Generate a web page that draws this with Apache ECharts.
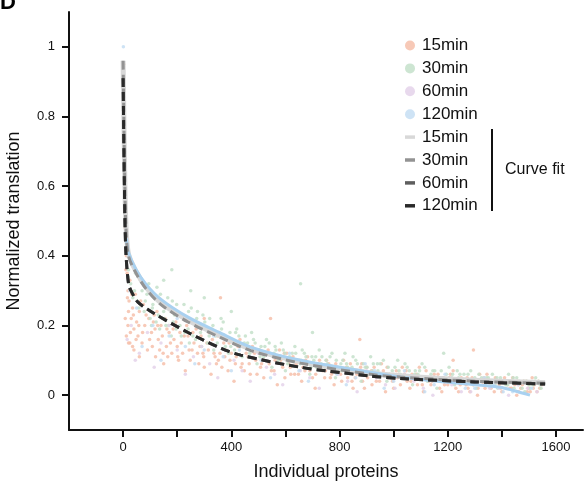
<!DOCTYPE html>
<html>
<head>
<meta charset="utf-8">
<script src="https://cdn.jsdelivr.net/npm/echarts@6/dist/echarts.min.js"></script>
<style>
  html, body { margin: 0; padding: 0; background: #fff; }
  #chart { width: 587px; height: 485px; }
</style>
</head>
<body>
<div id="chart"></div>
<script>
// legend names
var timePoints = ['15min', '30min', '60min', '120min'];

// axis ticks
var xTicks = [0, 200, 400, 600, 800, 1000, 1200, 1400, 1600];
var xLabels = [0, 400, 800, 1200, 1600];
var yTicks = [0, 0.2, 0.4, 0.6, 0.8, 1];

// scatter points, [protein index, normalized translation]
var pts15 = [[2,0.95],[5,0.62],[8,0.48],[12,0.40],[15,0.35],[18,0.30],[22,0.27],[25,0.33],[30,0.22],[35,0.25],
  [40,0.19],[45,0.29],[50,0.21],[55,0.17],[60,0.24],[70,0.15],[75,0.26],[80,0.20],[90,0.13],[95,0.22],
  [105,0.18],[115,0.23],[120,0.11],[130,0.16],[140,0.20],[150,0.09],[160,0.14],[170,0.18],[180,0.12],[195,0.21],
  [205,0.10],[215,0.15],[230,0.07],[240,0.17],[255,0.13],[270,0.19],[280,0.09],[295,0.12],[310,0.15],[325,0.06],
  [340,0.11],[350,0.17],[360,0.28],[365,0.08],[380,0.13],[395,0.10],[410,0.04],[425,0.14],[440,0.09],[455,0.12],
  [470,0.06],[490,0.10],[505,0.13],[520,0.05],[540,0.09],[545,0.22],[555,0.11],[570,0.03],[590,0.08],[605,0.12],
  [620,0.06],[640,0.09],[660,0.04],[675,0.10],[690,0.07],[710,0.02],[730,0.08],[745,0.05],[760,0.09],[780,0.03],
  [800,0.07],[815,0.10],[830,0.05],[850,0.02],[870,0.07],[875,0.16],[885,0.04],[900,0.08],[920,0.03],[940,0.06],
  [955,0.09],[970,0.01],[990,0.05],[1010,0.07],[1025,0.03],[1040,0.06],[1060,0.02],[1080,0.05],[1095,0.08],[1110,0.01],
  [1130,0.04],[1150,0.06],[1170,0.02],[1185,0.05],[1200,0.03],[1220,0.07],[1240,0.01],[1260,0.04],[1275,0.02],[1290,0.05],
  [1295,0.13],[1310,0.00],[1330,0.03],[1345,0.06],[1360,0.02],[1380,0.04],[1400,0.01],[1420,0.03],[1440,0.05],[1455,0.00],
  [1470,0.02],[1490,0.04],[1505,0.01],[1520,0.03],[1540,0.02],
  [8,0.22],[10,0.36],[12,0.17],[16,0.28],[18,0.20],[20,0.24],[20,0.15],[25,0.15],[27,0.18],[32,0.29],
  [35,0.14],[38,0.23],[40,0.13],[48,0.16],[58,0.20],[60,0.11],[65,0.27],[72,0.18],[85,0.23],[98,0.16],
  [108,0.14],[118,0.19],[125,0.24],[135,0.13],[145,0.17],[155,0.22],[165,0.11],[175,0.15],[185,0.19],[200,0.14],
  [210,0.18],[220,0.12],[235,0.20],[248,0.10],[262,0.15],[275,0.12],[288,0.17],[300,0.08],[300,0.22],[315,0.13],
  [330,0.16],[345,0.09],[358,0.12],[372,0.15],[388,0.07],[400,0.12],[415,0.09],[432,0.16],[448,0.07],[462,0.11],
  [478,0.14],[495,0.06],[512,0.09],[528,0.12],[548,0.07],[562,0.10],[578,0.13],[598,0.05],[612,0.09],[628,0.11],
  [648,0.06],[665,0.08],[682,0.11],[700,0.05],[718,0.09],[738,0.07],[752,0.10],[770,0.06],[790,0.08],[808,0.04],
  [822,0.07],[840,0.09],[858,0.05],[878,0.08],[892,0.02],[908,0.06],[928,0.08],[948,0.04],[962,0.07],[980,0.05],
  [1000,0.02],[1018,0.06],[1032,0.08],[1050,0.04],[1068,0.06],[1088,0.03],[1102,0.05],[1120,0.07],[1138,0.03],[1158,0.05],
  [1178,0.01],[1192,0.04],[1210,0.06],[1220,0.10],[1230,0.02],[1250,0.05],[1268,0.03],[1282,0.01],[1300,0.04],[1318,0.06],
  [1338,0.02],[1352,0.04],[1372,0.01],[1390,0.03],[1410,0.05],[1430,0.02],[1448,0.03],[1462,0.01],[1480,0.04],[1498,0.02],
  [1512,0.05],[1530,0.01],[1548,0.03],
  [112,0.21],[128,0.20],[148,0.12],[162,0.19],[188,0.16],[202,0.11],[226,0.17],[244,0.13],[258,0.18],[284,0.14],
  [298,0.11],[318,0.18],[336,0.12],[352,0.10],[376,0.11],[392,0.15],[418,0.11],[436,0.08],[452,0.14],[466,0.09],
  [486,0.12],[508,0.08],[522,0.10],[536,0.13],[558,0.07],[582,0.10],[596,0.12],[618,0.08],[634,0.06],[652,0.10],
  [672,0.07],[694,0.09],[712,0.06],[726,0.10],[748,0.07],[766,0.05],[786,0.09],[804,0.06],[826,0.08],[846,0.04],
  [864,0.06],[882,0.09],[904,0.05],[918,0.07],[936,0.04],[958,0.06],[976,0.08],[996,0.04],[1014,0.05],[1046,0.07],
  [1064,0.04],[1084,0.06],[1106,0.03],[1124,0.05],[1142,0.04],[1164,0.06],[1188,0.03],[1206,0.05],[1226,0.04],[1246,0.03],
  [1272,0.05],[1294,0.03],[1312,0.02],[1334,0.05],[1356,0.03],[1376,0.05],[1396,0.02],[1416,0.04],[1436,0.02],[1458,0.04],
  [1476,0.03],[1494,0.01],[1516,0.02],[1536,0.04]];

var pts30 = [[3,0.85],[7,0.55],[10,0.45],[14,0.41],[20,0.36],[28,0.32],[33,0.38],[42,0.30],[52,0.27],[65,0.33],
  [78,0.24],[88,0.29],[100,0.22],[110,0.26],[125,0.31],[135,0.19],[150,0.24],[165,0.28],[178,0.17],[180,0.36],
  [190,0.23],[210,0.20],[225,0.26],[245,0.15],[260,0.21],[275,0.24],[290,0.14],[300,0.28],[305,0.19],[320,0.22],
  [335,0.13],[355,0.18],[370,0.21],[390,0.12],[405,0.16],[420,0.19],[440,0.11],[460,0.15],[475,0.18],[495,0.09],
  [510,0.14],[530,0.16],[550,0.08],[565,0.13],[585,0.15],[600,0.07],[615,0.11],[635,0.14],[655,0.09],[670,0.12],
  [690,0.06],[700,0.18],[705,0.10],[725,0.13],[745,0.08],[765,0.11],[785,0.05],[805,0.09],[820,0.12],[840,0.07],
  [860,0.10],[880,0.04],[895,0.08],[915,0.11],[935,0.06],[950,0.09],[975,0.04],[995,0.07],[1015,0.10],[1035,0.05],
  [1050,0.08],[1070,0.03],[1090,0.06],[1105,0.09],[1125,0.04],[1145,0.07],[1160,0.02],[1180,0.05],[1185,0.12],[1205,0.08],
  [1225,0.03],[1245,0.06],[1265,0.04],[1285,0.07],[1305,0.02],[1325,0.05],[1340,0.03],[1365,0.06],[1385,0.02],[1405,0.04],
  [1425,0.06],[1445,0.02],[1465,0.04],[1485,0.01],[1500,0.03],[1525,0.05],[1545,0.02],
  [5,0.70],[12,0.44],[18,0.34],[24,0.40],[36,0.28],[46,0.35],[58,0.25],[70,0.30],[82,0.27],[95,0.32],
  [105,0.20],[118,0.28],[130,0.23],[142,0.27],[150,0.33],[158,0.20],[170,0.25],[185,0.21],[198,0.26],[215,0.17],
  [230,0.22],[240,0.19],[250,0.30],[252,0.25],[268,0.16],[282,0.20],[295,0.23],[312,0.15],[328,0.19],[342,0.17],
  [362,0.22],[378,0.14],[395,0.18],[400,0.24],[412,0.13],[428,0.17],[448,0.15],[468,0.12],[482,0.16],[502,0.13],
  [520,0.11],[540,0.15],[558,0.12],[575,0.10],[592,0.13],[608,0.09],[625,0.12],[645,0.10],[656,0.32],[662,0.13],
  [680,0.09],[698,0.11],[715,0.08],[735,0.11],[755,0.09],[772,0.12],[795,0.07],[812,0.10],[830,0.08],[850,0.11],
  [868,0.07],[888,0.09],[905,0.06],[925,0.09],[942,0.07],[962,0.10],[985,0.06],[1005,0.08],[1025,0.06],[1042,0.09],
  [1060,0.05],[1080,0.07],[1098,0.05],[1115,0.08],[1135,0.05],[1152,0.07],[1170,0.04],[1195,0.06],[1215,0.05],[1235,0.07],
  [1255,0.04],[1275,0.06],[1295,0.03],[1315,0.06],[1332,0.04],[1350,0.05],[1375,0.03],[1395,0.05],[1415,0.03],[1435,0.04],
  [1455,0.05],[1475,0.02],[1492,0.04],[1515,0.03],[1535,0.04],
  [108,0.25],[122,0.21],[138,0.29],[152,0.22],[168,0.20],[182,0.27],[196,0.19],[212,0.23],[228,0.18],[242,0.24],
  [258,0.17],[272,0.22],[286,0.18],[302,0.21],[318,0.17],[332,0.20],[348,0.15],[364,0.19],[382,0.16],[398,0.14],
  [416,0.18],[434,0.14],[452,0.17],[472,0.13],[488,0.15],[506,0.11],[524,0.14],[544,0.12],[562,0.14],[580,0.11],
  [598,0.12],[618,0.10],[638,0.12],[658,0.10],[676,0.11],[694,0.08],[712,0.11],[732,0.09],[750,0.10],[768,0.08],
  [788,0.10],[808,0.07],[826,0.09],[846,0.08],[866,0.09],[884,0.06],[902,0.08],[922,0.07],[940,0.09],[958,0.06],
  [980,0.08],[1000,0.06],[1020,0.07],[1040,0.05],[1058,0.07],[1078,0.06],[1096,0.07],[1118,0.05],[1138,0.06],[1156,0.05],
  [1176,0.07],[1198,0.04],[1218,0.06],[1240,0.05],[1260,0.06],[1280,0.04],[1300,0.05],[1322,0.04],[1344,0.05],[1362,0.03],
  [1382,0.05],[1402,0.04],[1422,0.03],[1442,0.05],[1462,0.03],[1482,0.04],[1504,0.02],[1522,0.04],[1542,0.03]];

var pts60 = [[6,0.50],[30,0.20],[60,0.12],[90,0.18],[140,0.15],[200,0.13],[260,0.11],[320,0.09],[380,0.16],[440,0.07],
  [500,0.12],[560,0.06],[620,0.10],[690,0.05],[760,0.08],[830,0.04],[900,0.07],[970,0.03],[1040,0.06],[1110,0.02],
  [1180,0.05],[1250,0.01],[1320,0.04],[1390,0.02],[1460,0.03],[1530,0.01],
  [15,0.16],[45,0.10],[115,0.08],[170,0.20],[230,0.06],[290,0.14],[350,0.05],[410,0.10],[470,0.04],[530,0.08],
  [590,0.03],[655,0.07],[725,0.02],[795,0.06],[865,0.01],[935,0.05],[1005,0.02],[1075,0.04],[1145,0.00],[1215,0.03],
  [1285,0.01],[1355,0.02],[1425,0.00],[1495,0.02]];

var pts120 = [[1,1.00],[4,0.70],[9,0.50],[25,0.30],[50,0.25],[110,0.20],[170,0.17],[230,0.14],[300,0.13],[370,0.11],
  [430,0.13],[510,0.10],[580,0.09],[650,0.07],[720,0.09],[790,0.06],[860,0.05],[930,0.07],[1000,0.04],[1080,0.05],
  [1150,0.03],[1230,0.04],[1300,0.02],[1370,0.03],[1440,0.01],[1510,0.02],
  [70,0.14],[140,0.10],[200,0.22],[265,0.09],[335,0.17],[400,0.07],[470,0.11],[545,0.05],[615,0.12],[685,0.04],
  [755,0.08],[825,0.03],[895,0.09],[965,0.02],[1040,0.07],[1115,0.01],[1190,0.06],[1265,0.02],[1335,0.05],[1405,0.01]];

// fitted curves
var fit15 = [[0,0.96],[5,0.68],[10,0.50],[20,0.405],[48,0.355],[85,0.31],[140,0.265],[240,0.215],[361,0.17],[472,0.133],
  [656,0.096],[914,0.064],[1025,0.056],[1300,0.043],[1560,0.036]];
var fit30 = [[0,0.96],[5,0.67],[10,0.49],[20,0.40],[48,0.35],[85,0.305],[140,0.26],[240,0.21],[361,0.165],[472,0.128],
  [656,0.092],[914,0.06],[1025,0.052],[1300,0.04],[1560,0.034]];
var fit60 = [[0,0.91],[5,0.59],[10,0.415],[20,0.32],[29,0.30],[55,0.267],[114,0.235],[240,0.18],[361,0.135],[435,0.115],
  [656,0.08],[914,0.055],[1025,0.048],[1300,0.038],[1560,0.032]];
var fit120 = [[0,0.91],[5,0.59],[10,0.415],[20,0.32],[29,0.30],[55,0.267],[114,0.235],[240,0.18],[361,0.135],[435,0.115],
  [656,0.08],[914,0.055],[1025,0.048],[1300,0.038],[1560,0.032]];
var trend120 = [[12,0.45],[20,0.41],[48,0.36],[85,0.318],[140,0.275],[240,0.224],[361,0.178],[472,0.138],[656,0.10],
  [914,0.066],[1025,0.052],[1200,0.037],[1393,0.023],[1450,0.012],[1504,0.0]];

var dotColors = ['#f6c0aa', '#c4e0ca', '#e4d2ea', '#c6def3'];
var fitColors = ['#d8d8d8', '#939393', '#5e5e5e', '#2a2a2a'];

var chart = echarts.init(document.getElementById('chart'));

function dots(name, data, i) {
  return {
    name: name, type: 'scatter', data: data, symbolSize: 3.5,
    itemStyle: { color: dotColors[i], opacity: 0.85 }, z: 1
  };
}

function fitLine(name, data, i) {
  var dashed = i > 0;
  return {
    name: name, type: 'line', data: data, showSymbol: false, symbol: 'none',
    smooth: 0.3,
    itemStyle: { color: fitColors[i] },
    lineStyle: { color: fitColors[i], width: dashed ? 3 : 5, type: dashed ? [9, 5] : 'solid' },
    z: 3 + i
  };
}

var lineIcon = 'path://M0,0H10V3.5H0Z';

option = {
  animation: false,
  textStyle: { fontFamily: 'Liberation Sans, Arial, sans-serif' },
  grid: { left: 69, right: 4, top: 12, bottom: 55, outerBoundsMode: 'none', containLabel: false },
  legend: {
    orient: 'vertical', left: 400, top: 32,
    itemWidth: 10, itemHeight: 10, itemGap: 5.9,
    textStyle: { fontSize: 17, lineHeight: 17, color: '#111', padding: [0, 0, 0, 2] },
    data: [
      { name: '15min', icon: 'circle' }, { name: '30min', icon: 'circle' },
      { name: '60min', icon: 'circle' }, { name: '120min', icon: 'circle' },
      { name: '15min ', icon: lineIcon }, { name: '30min ', icon: lineIcon },
      { name: '60min ', icon: lineIcon }, { name: '120min ', icon: lineIcon }
    ]
  },
  xAxis: {
    type: 'value', min: -200, max: 1700,
    name: 'Individual proteins', nameLocation: 'middle', nameGap: 33,
    nameTextStyle: { fontSize: 18, color: '#111' },
    splitLine: { show: false },
    axisLine: { onZero: false, lineStyle: { color: '#111', width: 2 } },
    axisTick: { customValues: xTicks, length: 7, lineStyle: { color: '#111', width: 2 } },
    axisLabel: { customValues: xLabels, fontSize: 13, color: '#111', margin: 11,
      formatter: function (v) { return String(v); } }
  },
  yAxis: {
    type: 'value', min: -0.1, max: 1.1,
    name: 'Normalized translation', nameLocation: 'middle', nameGap: 46,
    nameTextStyle: { fontSize: 18, color: '#111' },
    splitLine: { show: false },
    axisLine: { onZero: false, lineStyle: { color: '#111', width: 2 } },
    axisTick: { customValues: yTicks, length: 7, lineStyle: { color: '#111', width: 2 } },
    axisLabel: { customValues: yTicks, fontSize: 13, color: '#111', margin: 14,
      formatter: function (v) { return String(v); } }
  },
  graphic: [
    { type: 'text', left: 0, top: -8, style: { text: 'D', fontSize: 22, fontWeight: 'bold', fill: '#000' } },
    { type: 'rect', shape: { x: 491, y: 129, width: 2, height: 82 }, style: { fill: '#111' } },
    { type: 'text', left: 505, top: 162, style: { text: 'Curve fit', fontSize: 16, fill: '#111', fontFamily: 'Liberation Sans, Arial, sans-serif' } }
  ],
  series: [
    dots('15min', pts15, 0),
    dots('30min', pts30, 1),
    dots('60min', pts60, 2),
    dots('120min', pts120, 3),
    fitLine('15min ', fit15, 0),
    {
      name: 'trend', type: 'line', data: trend120, showSymbol: false, symbol: 'none', smooth: 0.3,
      lineStyle: { color: '#a9d1f0', width: 3 }, z: 4
    },
    fitLine('30min ', fit30, 1),
    fitLine('60min ', fit60, 2),
    fitLine('120min ', fit120, 3)
  ]
};

chart.setOption(option);
</script>
</body>
</html>
